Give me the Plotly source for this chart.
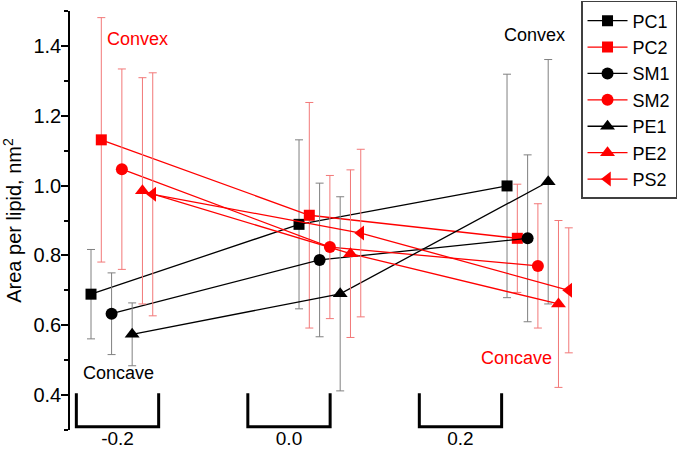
import plotly.graph_objects as go

# ---- data ----
curvature = [-0.2, 0.0, 0.2]
tick_labels = ["-0.2", "0.0", "0.2"]

series_names = ["PC1", "PC2", "SM1", "SM2", "PE1", "PE2", "PS2"]

PC1 = [0.689, 0.889, 0.999]
PC2 = [1.131, 0.915, 0.849]
SM1 = [0.633, 0.787, 0.849]
SM2 = [1.047, 0.824, 0.770]
PE1 = [0.574, 0.690, 1.011]
PE2 = [0.985, 0.805, 0.661]
PS2 = [0.975, 0.864, 0.700]

PC1_err = [0.128, 0.242, 0.320]
PC2_err = [0.350, 0.323, 0.155]
SM1_err = [0.117, 0.220, 0.239]
SM2_err = [0.287, 0.205, 0.178]
PE1_err = [0.090, 0.278, 0.350]
PE2_err = [0.324, 0.240, 0.239]
PS2_err = [0.348, 0.240, 0.179]

values = [PC1, PC2, SM1, SM2, PE1, PE2, PS2]
errors = [PC1_err, PC2_err, SM1_err, SM2_err, PE1_err, PE2_err, PS2_err]

# ---- styling ----
FONT = "Liberation Sans, Arial, sans-serif"
colors = ["black", "#ff0000", "black", "#ff0000", "black", "#ff0000", "#ff0000"]
err_colors = ["#808080", "#f27878", "#808080", "#f27878", "#808080", "#f27878", "#f27878"]
symbols = ["square", "square", "circle", "circle", "triangle-up", "triangle-up", "triangle-left"]
sizes = [11, 11, 12, 12, 13, 13, 13]

group_spread = 1.213   # horizontal spread of groups relative to tick positions
group_shift = 0.0117
dodge = 0.012

fig = go.Figure()
for i, (name, vals, errs) in enumerate(zip(series_names, values, errors)):
    xs = [group_spread * c + group_shift + dodge * i for c in curvature]
    fig.add_trace(go.Scatter(
        x=xs, y=vals, name=name, mode="lines+markers",
        line=dict(color=colors[i], width=1.3),
        marker=dict(symbol=symbols[i], size=sizes[i], color=colors[i]),
        error_y=dict(type="data", array=errs, visible=True,
                     color=err_colors[i], thickness=1, width=4),
    ))

# bracket marks for the x categories
for c in curvature:
    hw = 0.048
    fig.add_shape(type="path",
                  path=f"M {c-hw},0.405 L {c-hw},0.309 L {c+hw},0.309 L {c+hw},0.405",
                  xref="x", yref="y", line=dict(color="black", width=3))

annots = [
    dict(text="Convex", x=0.132, y=39, color="#ff0000"),
    dict(text="Concave", x=0.096, y=373, color="black"),
    dict(text="Convex", x=0.910, y=35, color="black"),
    dict(text="Concave", x=0.876, y=358, color="#ff0000"),
]
for a in annots:
    fig.add_annotation(text=a["text"], xref="paper", yref="paper",
                       x=a["x"], y=(430 - a["y"]) / 419, showarrow=False,
                       xanchor="center", yanchor="middle",
                       font=dict(family=FONT, size=18, color=a["color"]))

fig.update_layout(
    width=685, height=450,
    margin=dict(l=70, r=105, t=11, b=20, autoexpand=False),
    paper_bgcolor="white", plot_bgcolor="white",
    font=dict(family=FONT, size=20, color="black"),
    showlegend=True,
    legend=dict(x=1.002, y=1.024, xanchor="left", yanchor="top",
                bgcolor="white", bordercolor="#404040", borderwidth=1.5,
                font=dict(family=FONT, size=18, color="black"),
                tracegroupgap=0, itemwidth=40),
    xaxis=dict(range=[-0.2554, 0.3394], showline=False, showgrid=False,
               zeroline=False, ticks="", tickvals=curvature, ticktext=tick_labels,
               tickfont=dict(family=FONT, size=19), automargin=False,
               ticklabelstandoff=-5),
    yaxis=dict(range=[0.3, 1.5], showline=True, linecolor="black", linewidth=1.5,
               showgrid=False, zeroline=False, ticks="outside", ticklen=7,
               tickwidth=1.5, tickcolor="black", tickvals=[0.4, 0.6, 0.8, 1.0, 1.2, 1.4],
               ticktext=["0.4", "0.6", "0.8", "1.0", "1.2", "1.4"],
               minor=dict(tickvals=[0.3, 0.5, 0.7, 0.9, 1.1, 1.3, 1.5], ticks="outside",
                          ticklen=4, tickwidth=1.5, tickcolor="black"),
               tickfont=dict(family=FONT, size=20), automargin=False,
               ticklabelstandoff=-4,
               title=dict(text="Area per lipid, nm<sup>2</sup>",
                          font=dict(family=FONT, size=20), standoff=8)),
)

fig.write_html("out.html",
               config={"displayModeBar": False},
               post_script="document.body.style.margin='0';")
